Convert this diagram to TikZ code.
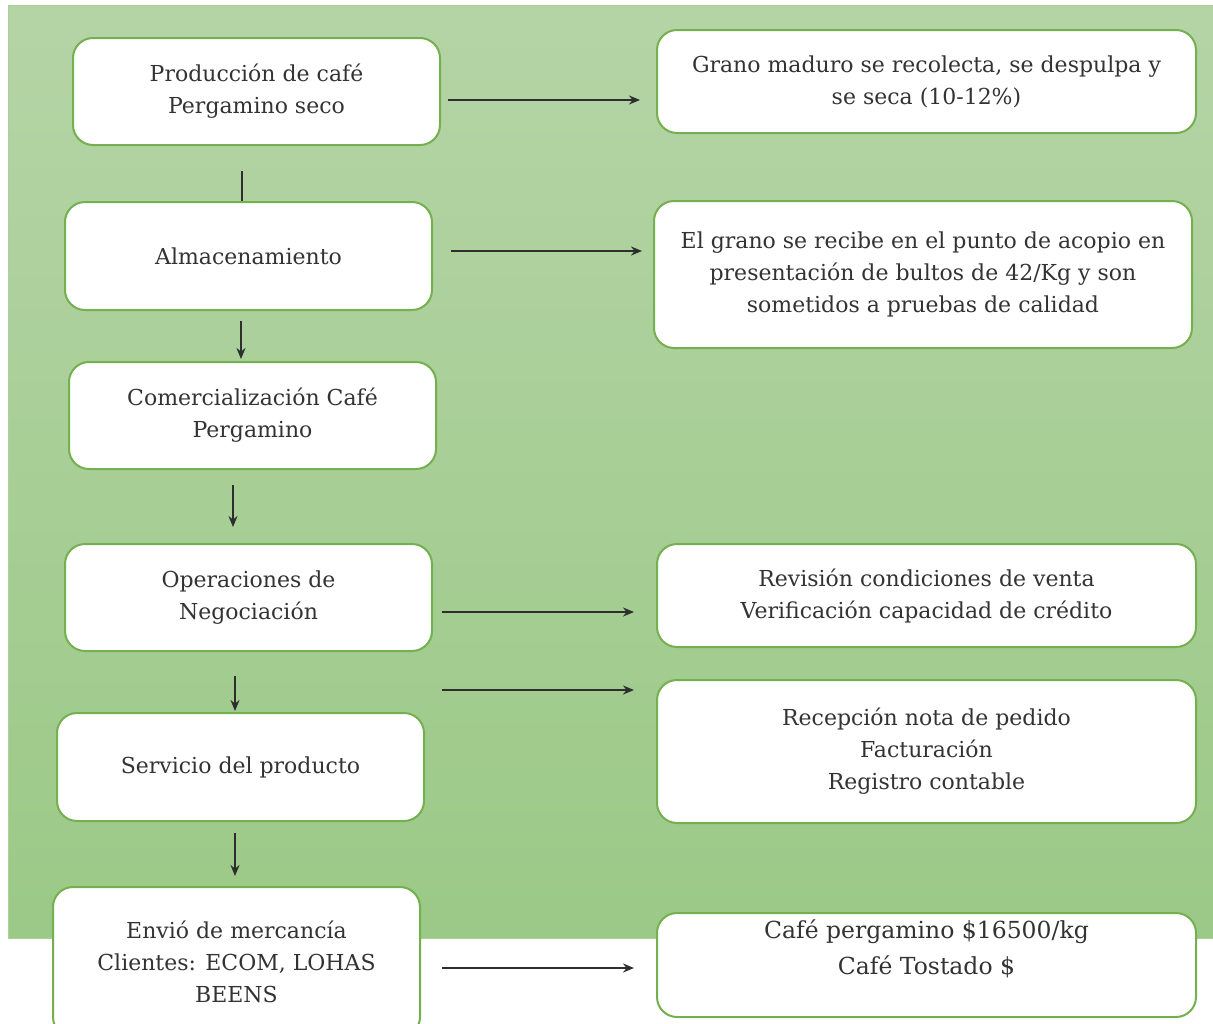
\documentclass[tikz,border=0pt]{standalone}
\usepackage{fontspec}
\setmainfont{DejaVu Serif}
\usetikzlibrary{arrows.meta}
\definecolor{fondoA}{HTML}{B5D4A6}
\definecolor{fondoB}{HTML}{9BC987}
\definecolor{borde}{HTML}{74B04F}
\definecolor{texto}{HTML}{333333}
\definecolor{linea}{HTML}{2E2E2E}

\begin{document}
\begin{tikzpicture}[x=1pt,y=-1pt,
    caja/.style={draw=borde,line width=2pt,fill=white,rounded corners=20pt,
      align=center,text=texto,inner sep=0pt,font=\fontsize{22}{32}\selectfont},
    flecha/.style={draw=linea,line width=2pt,-{Stealth[length=11pt,width=9pt]}}]
  \useasboundingbox (0,0) rectangle (1213,1023);
  \clip (0,0) rectangle (1213,1023);
  \shade[top color=fondoA,bottom color=fondoB,draw=borde!60] (8,5) rectangle (1213,938);

  \node[caja,minimum width=367,minimum height=107] (prod) at (256.5,91.5) {Producción de café\\Pergamino seco};
  \node[caja,minimum width=367,minimum height=108] (alm) at (248.5,256) {Almacenamiento};
  \node[caja,minimum width=367,minimum height=107] (com) at (252.5,415.5) {Comercialización Café\\Pergamino};
  \node[caja,minimum width=367,minimum height=107] (ope) at (248.5,597.5) {Operaciones de\\Negociación};
  \node[caja,minimum width=367,minimum height=108] (serv) at (240.5,767) {Servicio del producto};
  \node[caja,minimum width=367,minimum height=150] (env) at (236.5,962) {Envió de mercancía\\Clientes: ECOM, LOHAS\\BEENS};

  \node[caja,minimum width=539,minimum height=103] (grano) at (926.5,81.5) {Grano maduro se recolecta, se despulpa y\\se seca (10-12\%)};
  \node[caja,minimum width=538,minimum height=147] (recibe) at (923,274.5) {El grano se recibe en el punto de acopio en\\presentación de bultos de 42/Kg y son\\sometidos a pruebas de calidad};
  \node[caja,minimum width=539,minimum height=103] (rev) at (926.5,595.5) {Revisión condiciones de venta\\Verificación capacidad de crédito};
  \node[caja,minimum width=539,minimum height=143] (recep) at (926.5,751.5) {Recepción nota de pedido\\Facturación\\Registro contable};
  \node[caja,minimum width=539,minimum height=104,font=\fontsize{23.5}{36}\selectfont] (cafe) at (926.5,965) {Café pergamino \$16500/kg\\Café Tostado \$\\[-10pt] \strut};

  \draw[linea,line width=2pt,shorten <=25] (242,0 |- prod.south) -- (242,0 |- alm.north);
  \draw[flecha,shorten <=10,shorten >=2] (241,0 |- alm.south) -- (241,0 |- com.north);
  \draw[flecha,shorten <=15,shorten >=16] (233,0 |- com.south) -- (233,0 |- ope.north);
  \draw[flecha,shorten <=24,shorten >=1] (235,0 |- ope.south) -- (235,0 |- serv.north);
  \draw[flecha,shorten <=11,shorten >=10] (235,0 |- serv.south) -- (235,0 |- env.north);

  \draw[flecha,shorten <=7,shorten >=16] (prod.east |- 0,100) -- (grano.west |- 0,100);
  \draw[flecha,shorten <=18,shorten >=11] (alm.east |- 0,251) -- (recibe.west |- 0,251);
  \draw[flecha,shorten <=9,shorten >=22] (ope.east |- 0,612) -- (rev.west |- 0,612);
  \draw[flecha,shorten <=17,shorten >=22] (serv.east |- 0,690) -- (recep.west |- 0,690);
  \draw[flecha,shorten <=21,shorten >=22] (env.east |- 0,968) -- (cafe.west |- 0,968);
\end{tikzpicture}
\end{document}
